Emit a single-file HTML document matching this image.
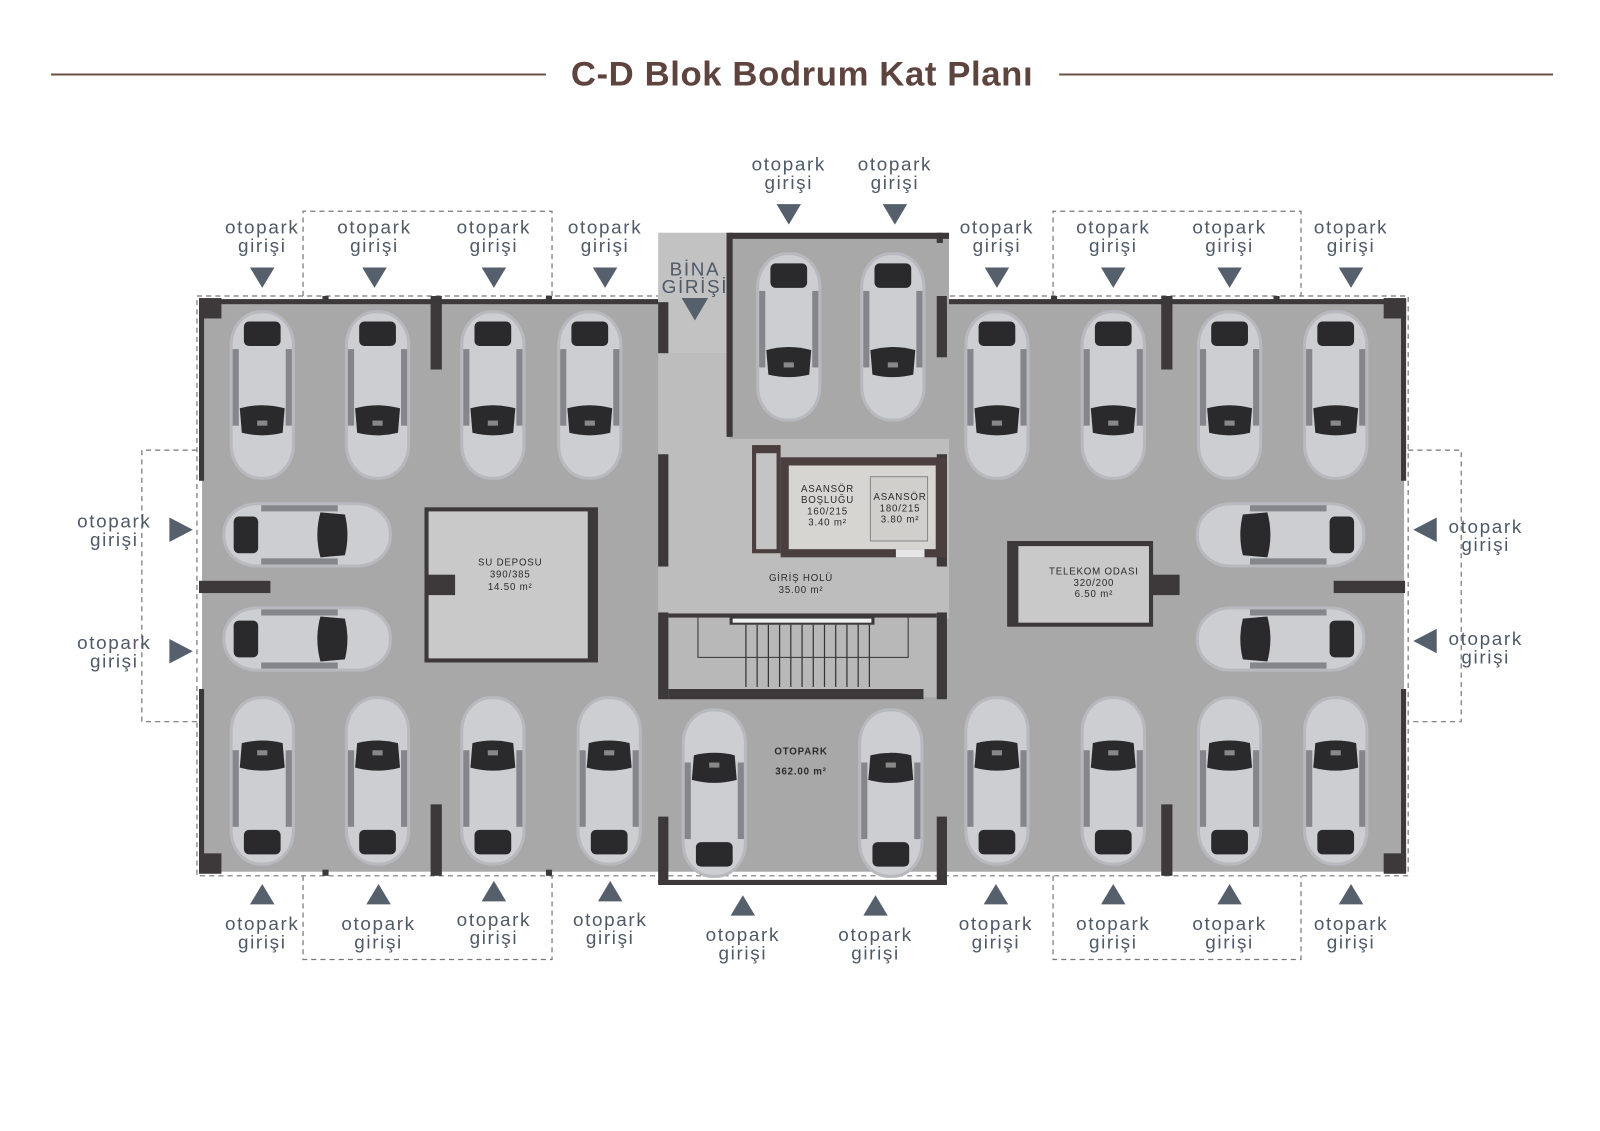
<!DOCTYPE html>
<html><head><meta charset="utf-8"><style>
html,body{margin:0;padding:0;background:#fff;}
svg{display:block;}
.l{font-family:"Liberation Sans","DejaVu Sans",sans-serif;font-size:18.5px;fill:#4f5967;letter-spacing:1.6px;text-anchor:middle;}
.r{font-family:"Liberation Sans",sans-serif;fill:#2b2b2b;text-anchor:middle;font-size:9.5px;letter-spacing:.8px;}
</style></head><body>
<svg width="1600" height="1131" viewBox="0 0 1568 1108" preserveAspectRatio="none" xmlns="http://www.w3.org/2000/svg">
<defs>
<symbol id="car" viewBox="0 0 70 170">
<rect x="3" y="2" width="64" height="166" rx="30" ry="34" fill="#b8b9be"/>
<rect x="6" y="5" width="58" height="160" rx="27" ry="31" fill="#cdced2"/>
<rect x="6" y="40" width="6" height="75" fill="#85868c"/>
<rect x="58" y="40" width="6" height="75" fill="#85868c"/>
<rect x="17" y="13" width="36" height="24" rx="5" fill="#2a2a2c"/>
<path d="M13 98 Q35 92 57 98 L55 122 Q35 127 15 122 Z" fill="#2a2a2c"/>
<rect x="30" y="110" width="10" height="5" fill="#888"/>
</symbol>
<symbol id="carh" viewBox="0 0 170 70">
<rect x="2" y="3" width="166" height="64" rx="34" ry="30" fill="#b8b9be"/>
<rect x="5" y="6" width="160" height="58" rx="31" ry="27" fill="#cdced2"/>
<rect x="40" y="6" width="75" height="6" fill="#85868c"/>
<rect x="40" y="58" width="75" height="6" fill="#85868c"/>
<rect x="13" y="17" width="24" height="36" rx="5" fill="#2a2a2c"/>
<path d="M98 13 Q92 35 98 57 L122 55 Q127 35 122 15 Z" fill="#2a2a2c"/>
</symbol>
</defs>

<!-- title -->
<line x1="50" y1="73" x2="535" y2="73" stroke="#6b4d45" stroke-width="2"/>
<line x1="1038" y1="73" x2="1522" y2="73" stroke="#6b4d45" stroke-width="2"/>
<text x="786" y="84" text-anchor="middle" font-family="Liberation Sans,sans-serif" font-weight="bold" font-size="34" letter-spacing="0.6" fill="#5e443e">C-D Blok Bodrum Kat Planı</text>

<!-- dashed outlines -->
<g fill="none" stroke="#777" stroke-width="1.2" stroke-dasharray="5,4">
<path d="M297 290 V207 H541 V290"/>
<path d="M1032 290 V207 H1275 V290"/>
<path d="M297 858 V940 H541 V858"/>
<path d="M1032 858 V940 H1275 V858"/>
<path d="M193 441 H139 V707 H193"/>
<path d="M1380 441 H1432 V707 H1380"/>
<rect x="193" y="290" width="1187" height="568"/>
</g>

<!-- floors -->
<rect x="198" y="296" width="1178" height="558" fill="#a8a8a8"/>
<rect x="715" y="230" width="215" height="70" fill="#a8a8a8"/>
<rect x="645" y="228" width="70" height="118" fill="#c2c2c2"/>
<rect x="645" y="346" width="70" height="260" fill="#bdbdbd"/>
<rect x="715" y="430" width="215" height="176" fill="#bdbdbd"/>
<rect x="655" y="603" width="265" height="80" fill="#b8b8b8"/>

<!-- walls -->
<g fill="#3d3839">
<rect x="198" y="293" width="447" height="5"/>
<rect x="930" y="293" width="448" height="5"/>
<rect x="715" y="228" width="215" height="6"/>
<rect x="195" y="292" width="22" height="20"/>
<rect x="1356" y="292" width="22" height="20"/>
<rect x="195" y="836" width="22" height="20"/>
<rect x="1356" y="836" width="22" height="20"/>
<rect x="195" y="296" width="5" height="175"/>
<rect x="195" y="675" width="5" height="180"/>
<rect x="1373" y="296" width="5" height="175"/>
<rect x="1373" y="675" width="5" height="180"/>
<rect x="195" y="569" width="70" height="12"/>
<rect x="1307" y="569" width="70" height="12"/>
<rect x="422" y="290" width="11" height="72"/>
<rect x="1138" y="290" width="11" height="72"/>
<rect x="422" y="788" width="11" height="70"/>
<rect x="1138" y="788" width="11" height="70"/>
<rect x="645" y="296" width="10" height="50"/>
<rect x="645" y="445" width="10" height="110"/>
<rect x="645" y="600" width="10" height="85"/>
<rect x="712" y="228" width="6" height="200"/>
<rect x="918" y="228" width="6" height="10"/>
<rect x="918" y="290" width="10" height="60"/>
<rect x="918" y="445" width="10" height="110"/>
<rect x="918" y="600" width="10" height="85"/>
<rect x="645" y="800" width="10" height="65"/>
<rect x="918" y="800" width="10" height="65"/>
<rect x="645" y="862" width="283" height="5"/>
<rect x="655" y="675" width="250" height="10"/>
<rect x="316" y="290" width="6" height="6"/>
<rect x="535" y="290" width="6" height="6"/>
<rect x="1030" y="290" width="6" height="6"/>
<rect x="1248" y="290" width="6" height="6"/>
<rect x="316" y="852" width="6" height="6"/>
<rect x="535" y="852" width="6" height="6"/>
</g>

<!-- elevator block -->
<rect x="737" y="436" width="28" height="106" fill="#4a3f3e"/>
<rect x="741" y="444" width="20" height="94" fill="#c4c4c4"/>
<rect x="765" y="448" width="163" height="98" fill="#4a3f3e"/>
<rect x="773" y="456" width="144" height="82" fill="#d6d5d2"/>
<rect x="853" y="467" width="56" height="63" fill="#d0cfcc" stroke="#888" stroke-width="1"/>
<rect x="878" y="538" width="28" height="8" fill="#e6e6e6"/>
<text class="r" x="811" y="482">ASANSÖR</text>
<text class="r" x="811" y="493">BOŞLUĞU</text>
<text class="r" x="811" y="504">160/215</text>
<text class="r" x="811" y="515">3.40 m²</text>
<text class="r" x="882" y="490">ASANSÖR</text>
<text class="r" x="882" y="501">180/215</text>
<text class="r" x="882" y="512">3.80 m²</text>
<text class="r" x="785" y="569">GİRİŞ HOLÜ</text>
<text class="r" x="785" y="581">35.00 m²</text>

<!-- stairs -->
<rect x="655" y="601" width="263" height="4" fill="#3d3839"/>
<rect x="715" y="604" width="142" height="8" fill="#3d3839"/>
<rect x="718" y="606" width="136" height="4" fill="#f0f0f0"/>
<g stroke="#333" stroke-width="1.2">
<line x1="731" y1="612" x2="731" y2="673"/><line x1="742" y1="612" x2="742" y2="673"/><line x1="753" y1="612" x2="753" y2="673"/><line x1="764" y1="612" x2="764" y2="673"/><line x1="775" y1="612" x2="775" y2="673"/><line x1="786" y1="612" x2="786" y2="673"/><line x1="797" y1="612" x2="797" y2="673"/><line x1="808" y1="612" x2="808" y2="673"/><line x1="819" y1="612" x2="819" y2="673"/><line x1="830" y1="612" x2="830" y2="673"/><line x1="841" y1="612" x2="841" y2="673"/><line x1="852" y1="612" x2="852" y2="673"/>
</g>
<path d="M684 605 V644 H890 V605" fill="none" stroke="#333" stroke-width="1"/>

<!-- su deposu -->
<rect x="416" y="497" width="170" height="152" fill="#3d3839"/>
<rect x="420" y="501" width="156" height="144" fill="#c9c9c9"/>
<rect x="416" y="563" width="30" height="20" fill="#3d3839"/>
<text class="r" x="500" y="554">SU DEPOSU</text>
<text class="r" x="500" y="566">390/385</text>
<text class="r" x="500" y="578">14.50 m²</text>

<!-- telekom -->
<rect x="987" y="530" width="143" height="84" fill="#3d3839"/>
<rect x="998" y="535" width="128" height="75" fill="#c9c9c9"/>
<rect x="1126" y="563" width="30" height="20" fill="#3d3839"/>
<text class="r" x="1072" y="563">TELEKOM ODASI</text>
<text class="r" x="1072" y="574">320/200</text>
<text class="r" x="1072" y="585">6.50 m²</text>

<text class="r" x="785" y="739" font-size="13" font-weight="bold">OTOPARK</text>
<text class="r" x="785" y="759" font-size="13" font-weight="bold" letter-spacing="0">362.00 m²</text>

<!-- cars -->
<g>
<use href="#car" x="222" y="302" width="70" height="170"/>
<use href="#car" x="335" y="302" width="70" height="170"/>
<use href="#car" x="448" y="302" width="70" height="170"/>
<use href="#car" x="543" y="302" width="70" height="170"/>
<use href="#car" x="738" y="245" width="70" height="170"/>
<use href="#car" x="840" y="245" width="70" height="170"/>
<use href="#car" x="942" y="302" width="70" height="170"/>
<use href="#car" x="1056" y="302" width="70" height="170"/>
<use href="#car" x="1170" y="302" width="70" height="170"/>
<use href="#car" x="1274" y="302" width="70" height="170"/>
<g transform="translate(0,1530) scale(1,-1)">
<use href="#car" x="222" y="680" width="70" height="170"/>
<use href="#car" x="335" y="680" width="70" height="170"/>
<use href="#car" x="448" y="680" width="70" height="170"/>
<use href="#car" x="562" y="680" width="70" height="170"/>
<use href="#car" x="665" y="668" width="70" height="170"/>
<use href="#car" x="838" y="668" width="70" height="170"/>
<use href="#car" x="942" y="680" width="70" height="170"/>
<use href="#car" x="1056" y="680" width="70" height="170"/>
<use href="#car" x="1170" y="680" width="70" height="170"/>
<use href="#car" x="1274" y="680" width="70" height="170"/>
</g>
<use href="#carh" x="216" y="489" width="170" height="70"/>
<use href="#carh" x="216" y="591" width="170" height="70"/>
<g transform="translate(2556,0) scale(-1,1)">
<use href="#carh" x="1216" y="489" width="170" height="70"/>
<use href="#carh" x="1216" y="591" width="170" height="70"/>
</g>
</g>

<!-- entry labels -->
<g fill="#56606c">
<polygon points="245,262 269,262 257,282"/><polygon points="355,262 379,262 367,282"/><polygon points="472,262 496,262 484,282"/><polygon points="581,262 605,262 593,282"/>
<polygon points="965,262 989,262 977,282"/><polygon points="1079,262 1103,262 1091,282"/><polygon points="1193,262 1217,262 1205,282"/><polygon points="1312,262 1336,262 1324,282"/>
<polygon points="761,200 785,200 773,220"/><polygon points="865,200 889,200 877,220"/>
<polygon points="668,292 694,292 681,314"/>
<polygon points="245,886 269,886 257,866"/><polygon points="359,886 383,886 371,866"/><polygon points="472,883 496,883 484,863"/><polygon points="586,883 610,883 598,863"/><polygon points="716,897 740,897 728,877"/><polygon points="846,897 870,897 858,877"/><polygon points="964,886 988,886 976,866"/><polygon points="1079,886 1103,886 1091,866"/><polygon points="1193,886 1217,886 1205,866"/><polygon points="1312,886 1336,886 1324,866"/>
<polygon points="166,507 166,531 189,519"/><polygon points="166,626 166,650 189,638"/>
<polygon points="1408,507 1408,531 1385,519"/><polygon points="1408,616 1408,640 1385,628"/>
</g>
<g>
<text x="257" y="229" class="l">otopark</text><text x="257" y="247" class="l">girişi</text>
<text x="367" y="229" class="l">otopark</text><text x="367" y="247" class="l">girişi</text>
<text x="484" y="229" class="l">otopark</text><text x="484" y="247" class="l">girişi</text>
<text x="593" y="229" class="l">otopark</text><text x="593" y="247" class="l">girişi</text>
<text x="977" y="229" class="l">otopark</text><text x="977" y="247" class="l">girişi</text>
<text x="1091" y="229" class="l">otopark</text><text x="1091" y="247" class="l">girişi</text>
<text x="1205" y="229" class="l">otopark</text><text x="1205" y="247" class="l">girişi</text>
<text x="1324" y="229" class="l">otopark</text><text x="1324" y="247" class="l">girişi</text>
<text x="773" y="167" class="l">otopark</text><text x="773" y="185" class="l">girişi</text>
<text x="877" y="167" class="l">otopark</text><text x="877" y="185" class="l">girişi</text>
<text x="681" y="270" class="l" font-size="16">BİNA</text><text x="681" y="287" class="l" font-size="16">GİRİŞİ</text>
<text x="257" y="911" class="l">otopark</text><text x="257" y="929" class="l">girişi</text>
<text x="371" y="911" class="l">otopark</text><text x="371" y="929" class="l">girişi</text>
<text x="484" y="907" class="l">otopark</text><text x="484" y="925" class="l">girişi</text>
<text x="598" y="907" class="l">otopark</text><text x="598" y="925" class="l">girişi</text>
<text x="728" y="922" class="l">otopark</text><text x="728" y="940" class="l">girişi</text>
<text x="858" y="922" class="l">otopark</text><text x="858" y="940" class="l">girişi</text>
<text x="976" y="911" class="l">otopark</text><text x="976" y="929" class="l">girişi</text>
<text x="1091" y="911" class="l">otopark</text><text x="1091" y="929" class="l">girişi</text>
<text x="1205" y="911" class="l">otopark</text><text x="1205" y="929" class="l">girişi</text>
<text x="1324" y="911" class="l">otopark</text><text x="1324" y="929" class="l">girişi</text>
<text x="112" y="517" class="l">otopark</text><text x="112" y="535" class="l">girişi</text>
<text x="112" y="636" class="l">otopark</text><text x="112" y="654" class="l">girişi</text>
<text x="1456" y="522" class="l">otopark</text><text x="1456" y="540" class="l">girişi</text>
<text x="1456" y="632" class="l">otopark</text><text x="1456" y="650" class="l">girişi</text>
</g>
</svg>
</body></html>
